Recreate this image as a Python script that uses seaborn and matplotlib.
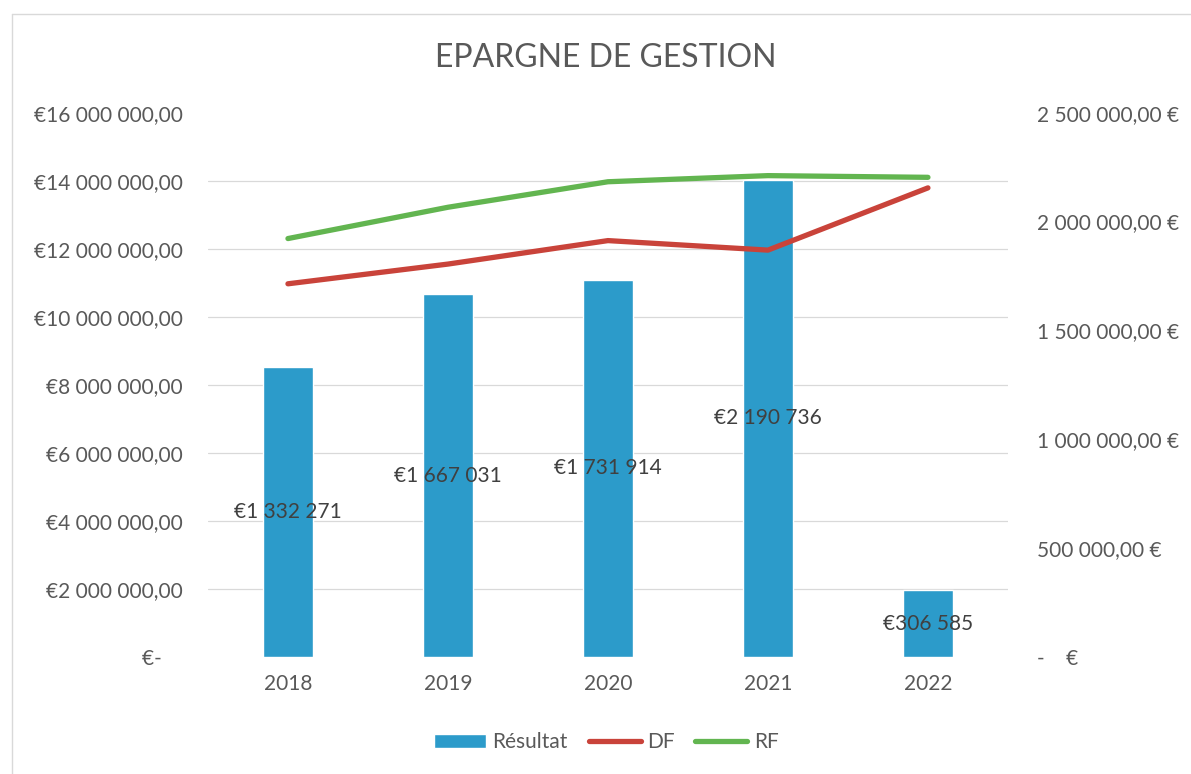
import matplotlib
matplotlib.use("Agg")
import matplotlib.pyplot as plt
import matplotlib.ticker as mticker
from matplotlib.lines import Line2D
import seaborn as sns
import numpy as np
import pandas as pd

# Data
years = ["2018", "2019", "2020", "2021", "2022"]
resultat = [1332271, 1667031, 1731914, 2190736, 306585]
rf = [12.30e6, 13.22e6, 13.97e6, 14.15e6, 14.10e6]
df_values = [10.97e6, 11.55e6, 12.24e6, 11.96e6, 13.79e6]

BAR_COLOR = "#2C9BCA"
DF_COLOR = "#C9433A"
RF_COLOR = "#62B550"
TEXT_GRAY = "#595959"
GRID_GRAY = "#D9D9D9"


def fr_number(v: float, decimals: int = 2) -> str:
    """French style number: space as thousands separator, comma as decimal mark."""
    s = f"{v:,.{decimals}f}"
    return s.replace(",", " ").replace(".", ",")


def left_fmt(v, pos):
    if abs(v) < 1:
        return "€-    "
    return "€" + fr_number(v)


def right_fmt(v, pos):
    if abs(v) < 1:
        return "-    €"
    return fr_number(v) + " €"


sns.set_theme(style="white")
plt.rcParams["font.family"] = ["Lato", "DejaVu Sans"]

fig = plt.figure(figsize=(11.91, 7.74), dpi=100)
ax_bar = fig.add_axes([0.1746, 0.1512, 0.6717, 0.7032])
ax_line = ax_bar.twinx()

# Bars (Résultat) on the right scale, drawn underneath
data = pd.DataFrame({"year": years, "resultat": resultat, "DF": df_values, "RF": rf})
sns.barplot(data=data, x="year", y="resultat", ax=ax_bar, color=BAR_COLOR,
            saturation=1, width=0.31, label="Résultat", zorder=2)
if ax_bar.get_legend() is not None:
    ax_bar.get_legend().remove()
ax_bar.bar_label(ax_bar.containers[0], labels=["€" + fr_number(v, 0) for v in resultat],
                 label_type="center", fontsize=15, color="#404040")

# Lines (DF / RF) on the left scale, drawn on top
pos = np.arange(len(years))
sns.lineplot(x=pos, y=data["DF"], ax=ax_line, color=DF_COLOR, linewidth=3.8,
             label="DF", legend=False, solid_capstyle="round")
sns.lineplot(x=pos, y=data["RF"], ax=ax_line, color=RF_COLOR, linewidth=3.8,
             label="RF", legend=False, solid_capstyle="round")

# Scales
ax_bar.set_ylim(0, 2.5e6)
ax_line.set_ylim(0, 16e6)
ax_bar.set_xlim(-0.5, len(years) - 0.5)
ax_bar.set_xticks(pos, years)

ax_bar.yaxis.tick_right()
ax_line.yaxis.tick_left()
ax_bar.set_yticks(np.arange(0, 2.5e6 + 1, 5e5))
ax_line.set_yticks(np.arange(0, 16e6 + 1, 2e6))
ax_bar.yaxis.set_major_formatter(mticker.FuncFormatter(right_fmt))
ax_line.yaxis.set_major_formatter(mticker.FuncFormatter(left_fmt))

# Gridlines follow the left scale, kept behind the bars
ax_bar.set_yticks(np.arange(0, 2.5e6 + 1, 2.5e6 / 8), minor=True)
ax_bar.grid(which="minor", axis="y", color=GRID_GRAY, linewidth=0.9, zorder=0)
ax_bar.grid(which="major", axis="y", visible=False)
ax_bar.set_axisbelow(True)

for a in (ax_bar, ax_line):
    for sp in a.spines.values():
        sp.set_visible(False)
    a.set_xlabel("")
    a.set_ylabel("")
    a.tick_params(axis="both", which="both", length=0, labelsize=15, labelcolor=TEXT_GRAY)

ax_bar.tick_params(axis="x", pad=12)
ax_bar.tick_params(axis="y", pad=21)
ax_line.tick_params(axis="y", pad=18)
for t in ax_bar.get_yticklabels():
    t.set_horizontalalignment("left")

fig.text(0.509, 0.925, "EPARGNE DE GESTION", ha="center", va="center",
         fontsize=23, color=TEXT_GRAY, fontweight="normal")

# Legend
h1, l1 = ax_bar.get_legend_handles_labels()
h2, l2 = ax_line.get_legend_handles_labels()
fig.legend(h1 + h2, l1 + l2, loc="center", bbox_to_anchor=(0.509, 0.041), ncol=3,
           frameon=False, fontsize=15, labelcolor=TEXT_GRAY, handlelength=2.5,
           handletextpad=0.3, columnspacing=1.0, handleheight=0.6)

# light chart-area border
fig.add_artist(Line2D([12 / 1191, 12 / 1191], [0, 1 - 14 / 774], color=GRID_GRAY, lw=1))
fig.add_artist(Line2D([12 / 1191, 1], [1 - 14 / 774, 1 - 14 / 774], color=GRID_GRAY, lw=1))

fig.savefig("out.png", dpi=100, facecolor="white")
